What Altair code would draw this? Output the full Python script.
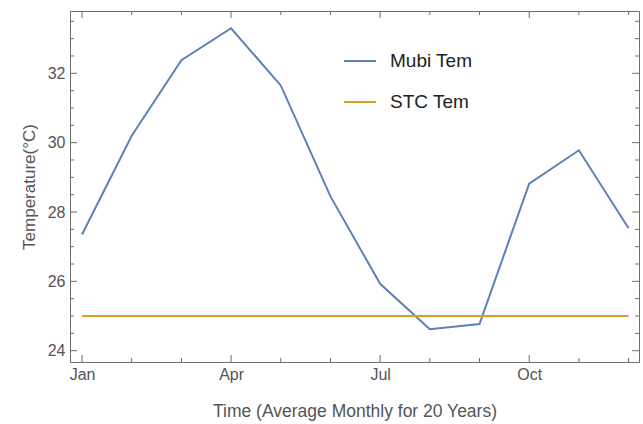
import altair as alt
import pandas as pd

month_names = ["Jan", "Feb", "Mar", "Apr", "May", "Jun",
               "Jul", "Aug", "Sep", "Oct", "Nov", "Dec"]
months = list(range(1, 13))
mubi_tem = [27.35, 30.2, 32.38, 33.3, 31.65, 28.45,
            25.93, 24.62, 24.77, 28.82, 29.78, 27.53]
stc_tem = [25.0] * 12
series_names = ["Mubi Tem", "STC Tem"]
series_colors = ["#5E81B5", "#E19C24"]

x_major = [1, 4, 7, 10]
x_minor = [m for m in months if m not in x_major]
y_major = [24, 26, 28, 30, 32]
y_minor = [24.5, 25, 25.5, 26.5, 27, 27.5, 28.5, 29, 29.5,
           30.5, 31, 31.5, 32.5, 33, 33.5]

X_DOMAIN = [0.758, 12.21]
Y_DOMAIN = [23.674, 33.797]
W, H = 569, 351

rows = []
for m, a, b in zip(months, mubi_tem, stc_tem):
    rows.append({"month": m, "temp": a, "series": series_names[0]})
    rows.append({"month": m, "temp": b, "series": series_names[1]})
df = pd.DataFrame(rows)

label_expr = "[" + ",".join("'%s'" % n for n in month_names) + "][round(datum.value)-1]"

FONT = "Liberation Sans"
TICK_COLOR = "#6d6d6d"
TEXT_COLOR = "#555555"

xscale = alt.Scale(domain=X_DOMAIN, nice=False, zero=False)
yscale = alt.Scale(domain=Y_DOMAIN, nice=False, zero=False)

axis_style = dict(tickSize=0, domain=False, grid=False,
                  labelFont=FONT, titleFont=FONT, labelFontSize=16,
                  labelColor=TEXT_COLOR,
                  titleColor=TEXT_COLOR, titleFontWeight="normal")

lines = alt.Chart(df).mark_line(strokeWidth=2).encode(
    x=alt.X("month:Q", scale=xscale,
            axis=alt.Axis(values=x_major, labelExpr=label_expr,
                          title="Time (Average Monthly for 20 Years)",
                          titleFontSize=17.5,
                          labelPadding=4, titlePadding=20, **axis_style)),
    y=alt.Y("temp:Q", scale=yscale,
            axis=alt.Axis(values=y_major, title="Temperature(\u00b0C)",
                          titleFontSize=17,
                          labelPadding=5, titlePadding=9, **axis_style)),
    color=alt.Color("series:N",
                    scale=alt.Scale(domain=series_names, range=series_colors),
                    legend=alt.Legend(title=None, orient="none",
                                      legendX=273, legendY=33,
                                      symbolType="stroke", symbolSize=1024,
                                      symbolStrokeWidth=2, labelFontSize=19,
                                      labelFont=FONT, labelColor="#222222",
                                      labelOffset=13, rowPadding=14)),
)

def xticks(vals, y0, y1):
    d = pd.DataFrame({"month": vals})
    return alt.Chart(d).mark_rule(color=TICK_COLOR, strokeWidth=1).encode(
        x=alt.X("month:Q", scale=xscale),
        y=alt.value(y0), y2=alt.value(y1))

def yticks(vals, x0, x1):
    d = pd.DataFrame({"temp": vals})
    return alt.Chart(d).mark_rule(color=TICK_COLOR, strokeWidth=1).encode(
        y=alt.Y("temp:Q", scale=yscale),
        x=alt.value(x0), x2=alt.value(x1))

ticks = [
    xticks(x_major, H, H - 7), xticks(x_minor, H, H - 4),
    xticks(x_major, 0, 7), xticks(x_minor, 0, 4),
    yticks(y_major, 0, 7), yticks(y_minor, 0, 4),
    yticks(y_major, W, W - 7), yticks(y_minor, W, W - 4),
]

chart = alt.layer(lines, *ticks).properties(
    width=W, height=H,
    background="white",
    autosize=alt.AutoSizeParams(type="none"),
    padding={"left": 70, "top": 11, "right": 4, "bottom": 62},
).configure_view(
    stroke="#6d6d6d", strokeWidth=1
)

chart.save("out.html", embed_options={"renderer": "svg", "actions": False})
